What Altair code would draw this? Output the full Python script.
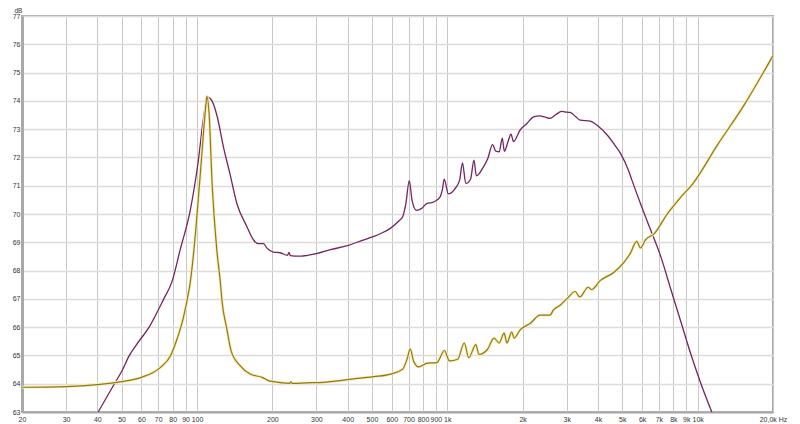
import altair as alt
import pandas as pd

# SPL curve (purple), dB on left axis
spl_freq = [40.3, 46.8, 50.5, 53.3, 57.0, 64.4, 73.7, 79.4, 85.7, 94, 100.8, 106.6, 110, 114.8,
            120, 127.8, 135.6, 144.3, 158, 168, 176, 184.6, 190, 202, 215, 230, 233, 236,
            256, 300, 341, 399, 457, 509, 545, 594, 640, 663, 683, 705, 723, 752, 790, 827,
            880, 935, 955, 972, 1010, 1072, 1120, 1150, 1185, 1238, 1278, 1306, 1389, 1450,
            1516, 1563, 1612, 1658, 1690, 1740, 1796, 1838, 1954, 2080, 2209, 2348, 2450,
            2573, 2700, 2867, 3000, 3096, 3250, 3394, 3723, 4021, 4343, 4700, 4912, 5305,
            5472, 5910, 6486, 7116, 7806, 8565, 9397, 10309, 11390]
spl_db = [63.0, 64.0, 64.5, 64.95, 65.35, 66.0, 67.0, 67.6, 68.74, 70.13, 71.76, 73.5, 74.13, 74.0,
          73.5, 72.34, 71.4, 70.37, 69.57, 69.09, 68.95, 68.95, 68.8, 68.65, 68.63, 68.54, 68.64, 68.53,
          68.51, 68.6, 68.74, 68.88, 69.07, 69.21, 69.32, 69.5, 69.75, 69.9, 70.37, 71.18, 70.48, 70.13, 70.2, 70.37,
          70.42, 70.6, 70.85, 71.23, 70.71, 70.89, 71.2, 71.81, 71.08, 71.23, 71.9, 71.35, 71.64, 71.95,
          72.45, 72.22, 72.2, 72.68, 72.22, 72.5, 72.82, 72.56, 72.97, 73.2, 73.43, 73.47, 73.43,
          73.38, 73.5, 73.63, 73.6, 73.59, 73.45, 73.32, 73.28, 73.09, 72.8, 72.4, 72.15, 71.52,
          71.18, 70.37, 69.44, 68.51, 67.35, 66.2, 65.04, 64.0, 63.0]

# Impedance curve (gold), ohm on right axis
imp_freq = [20, 30, 40, 50, 60, 71.3, 78.3, 83.5, 88.1, 92.6, 94, 98.9, 103.8, 108.5, 109.5, 111.9,
            114.8, 120, 124, 126, 131.5, 137, 149, 163, 182, 193, 202, 235, 237, 240, 275, 320,
            374, 437, 509, 594, 663, 690, 711, 733, 769, 832, 909, 974, 1020, 1100, 1169, 1218,
            1300, 1338, 1446, 1537, 1610, 1687, 1730, 1808, 1850, 1954, 2146, 2348, 2573, 2651,
            2823, 3000, 3245, 3378, 3654, 3770, 4078, 4620, 5067, 5395, 5707, 5910, 6195, 6700,
            7579, 8565, 9545, 12020, 15300, 20000]
imp_ohm = [7.75, 7.8, 7.94, 8.15, 8.45, 9.14, 9.96, 11.23, 12.62, 14.47, 15.17, 18.87, 23.5, 27.68, 28.32, 26.98,
           22.35, 17.48, 15.17, 13.78, 11.92, 10.3, 9.26, 8.68, 8.45, 8.22, 8.15, 8.03, 8.14, 8.02, 8.06, 8.1,
           8.22, 8.38, 8.5, 8.68, 9.03, 9.72, 10.46, 9.61, 9.19, 9.45, 9.49, 10.35, 9.61, 9.73, 10.88, 9.84,
           10.77, 10.07, 10.42, 11.23, 10.88, 11.57, 10.88, 11.65, 11.23, 11.81, 12.27, 12.85, 12.85, 13.2,
           13.55, 14.0, 14.52, 14.13, 14.82, 14.66, 15.29, 15.86, 16.56, 17.25, 18.07, 17.6, 18.18, 18.6,
           20.03, 21.19, 22.12, 24.9, 27.68, 31.2]

x_tick_values = [20, 30, 40, 50, 60, 70, 80, 90, 100, 200, 300, 400, 500, 600, 700, 800, 900,
                 1000, 2000, 3000, 4000, 5000, 6000, 7000, 8000, 9000, 10000, 20000]
x_tick_labels = ["20", "30", "40", "50", "60", "70", "80", "90", "100", "200", "300", "400", "500",
                 "600", "700", "800", "900", "1k", "2k", "3k", "4k", "5k", "6k", "7k", "8k", "9k",
                 "10k", "20,0k Hz"]
db_ticks = list(range(63, 78))
ohm_ticks = list(range(6, 35, 2))

spl_df = pd.DataFrame({"freq": spl_freq, "db": spl_db})
imp_df = pd.DataFrame({"freq": imp_freq, "ohm": imp_ohm})

FONT = "Liberation Sans"
FS = 7
label_expr = "[" + ",".join("'%s'" % s for s in x_tick_labels) + "][indexof([" + \
    ",".join(str(v) for v in x_tick_values) + "], datum.value)]"

x_scale = alt.Scale(type="log", domain=[20, 20000], nice=False)

x_enc = alt.X("freq:Q", scale=x_scale,
              axis=alt.Axis(values=x_tick_values, labelExpr=label_expr, title=None,
                            grid=True, gridColor="#c8c8c8", gridWidth=1, ticks=False,
                            labelOverlap=False, labelFlush=False, labelPadding=3,
                            labelFontSize=FS, labelFont=FONT, labelColor="#333333",
                            domainColor="#a9a9a9", domainWidth=2))

spl = alt.Chart(spl_df).mark_line(color="#74245f", strokeWidth=1.3, interpolate="monotone").encode(
    x=x_enc,
    y=alt.Y("db:Q", scale=alt.Scale(domain=[63, 77], nice=False, zero=False),
            axis=alt.Axis(values=db_ticks, title="dB", titleAngle=0, titleX=-8, titleY=-3,
                          titleAlign="left", titleBaseline="bottom", titleFontSize=6.5,
                          titleFont=FONT, titleFontWeight="normal", titleColor="#333333",
                          grid=True, gridColor="#dcdcdc", gridWidth=1.5, ticks=False,
                          labelPadding=2, labelFontSize=FS, labelFont=FONT, labelColor="#333333",
                          domainColor="#a9a9a9", domainWidth=3, labelOverlap=False)),
)

imp_halo = alt.Chart(imp_df).mark_line(color="#f6eebd", strokeWidth=3, interpolate="monotone").encode(
    x=alt.X("freq:Q", scale=x_scale),
    y=alt.Y("ohm:Q", scale=alt.Scale(domain=[6, 34], nice=False, zero=False), axis=None),
)

imp = alt.Chart(imp_df).mark_line(color="#927810", strokeWidth=1.2, interpolate="monotone").encode(
    x=alt.X("freq:Q", scale=x_scale),
    y=alt.Y("ohm:Q", scale=alt.Scale(domain=[6, 34], nice=False, zero=False),
            axis=alt.Axis(orient="right", values=ohm_ticks, title="ohm", titleAngle=0,
                          titleX=1, titleY=-3, titleAlign="left", titleBaseline="bottom",
                          titleFontSize=6.5, titleFont=FONT, titleFontWeight="normal",
                          titleColor="#333333", grid=False, ticks=False, labelPadding=3,
                          labelFontSize=FS, labelFont=FONT, labelColor="#333333",
                          domainColor="#a9a9a9", domainWidth=1.5, labelOverlap=False)),
)

right = alt.layer(imp_halo, imp)

chart = alt.layer(spl, right).resolve_scale(y="independent").properties(
    width=751, height=396,
    autosize=alt.AutoSizeParams(type="none"),
    padding={"left": 14, "top": 8, "right": 19, "bottom": 12},
    background="white",
).configure_view(stroke="#a9a9a9", strokeWidth=2)

chart.save("out.html", embed_options={"renderer": "svg", "actions": False})
